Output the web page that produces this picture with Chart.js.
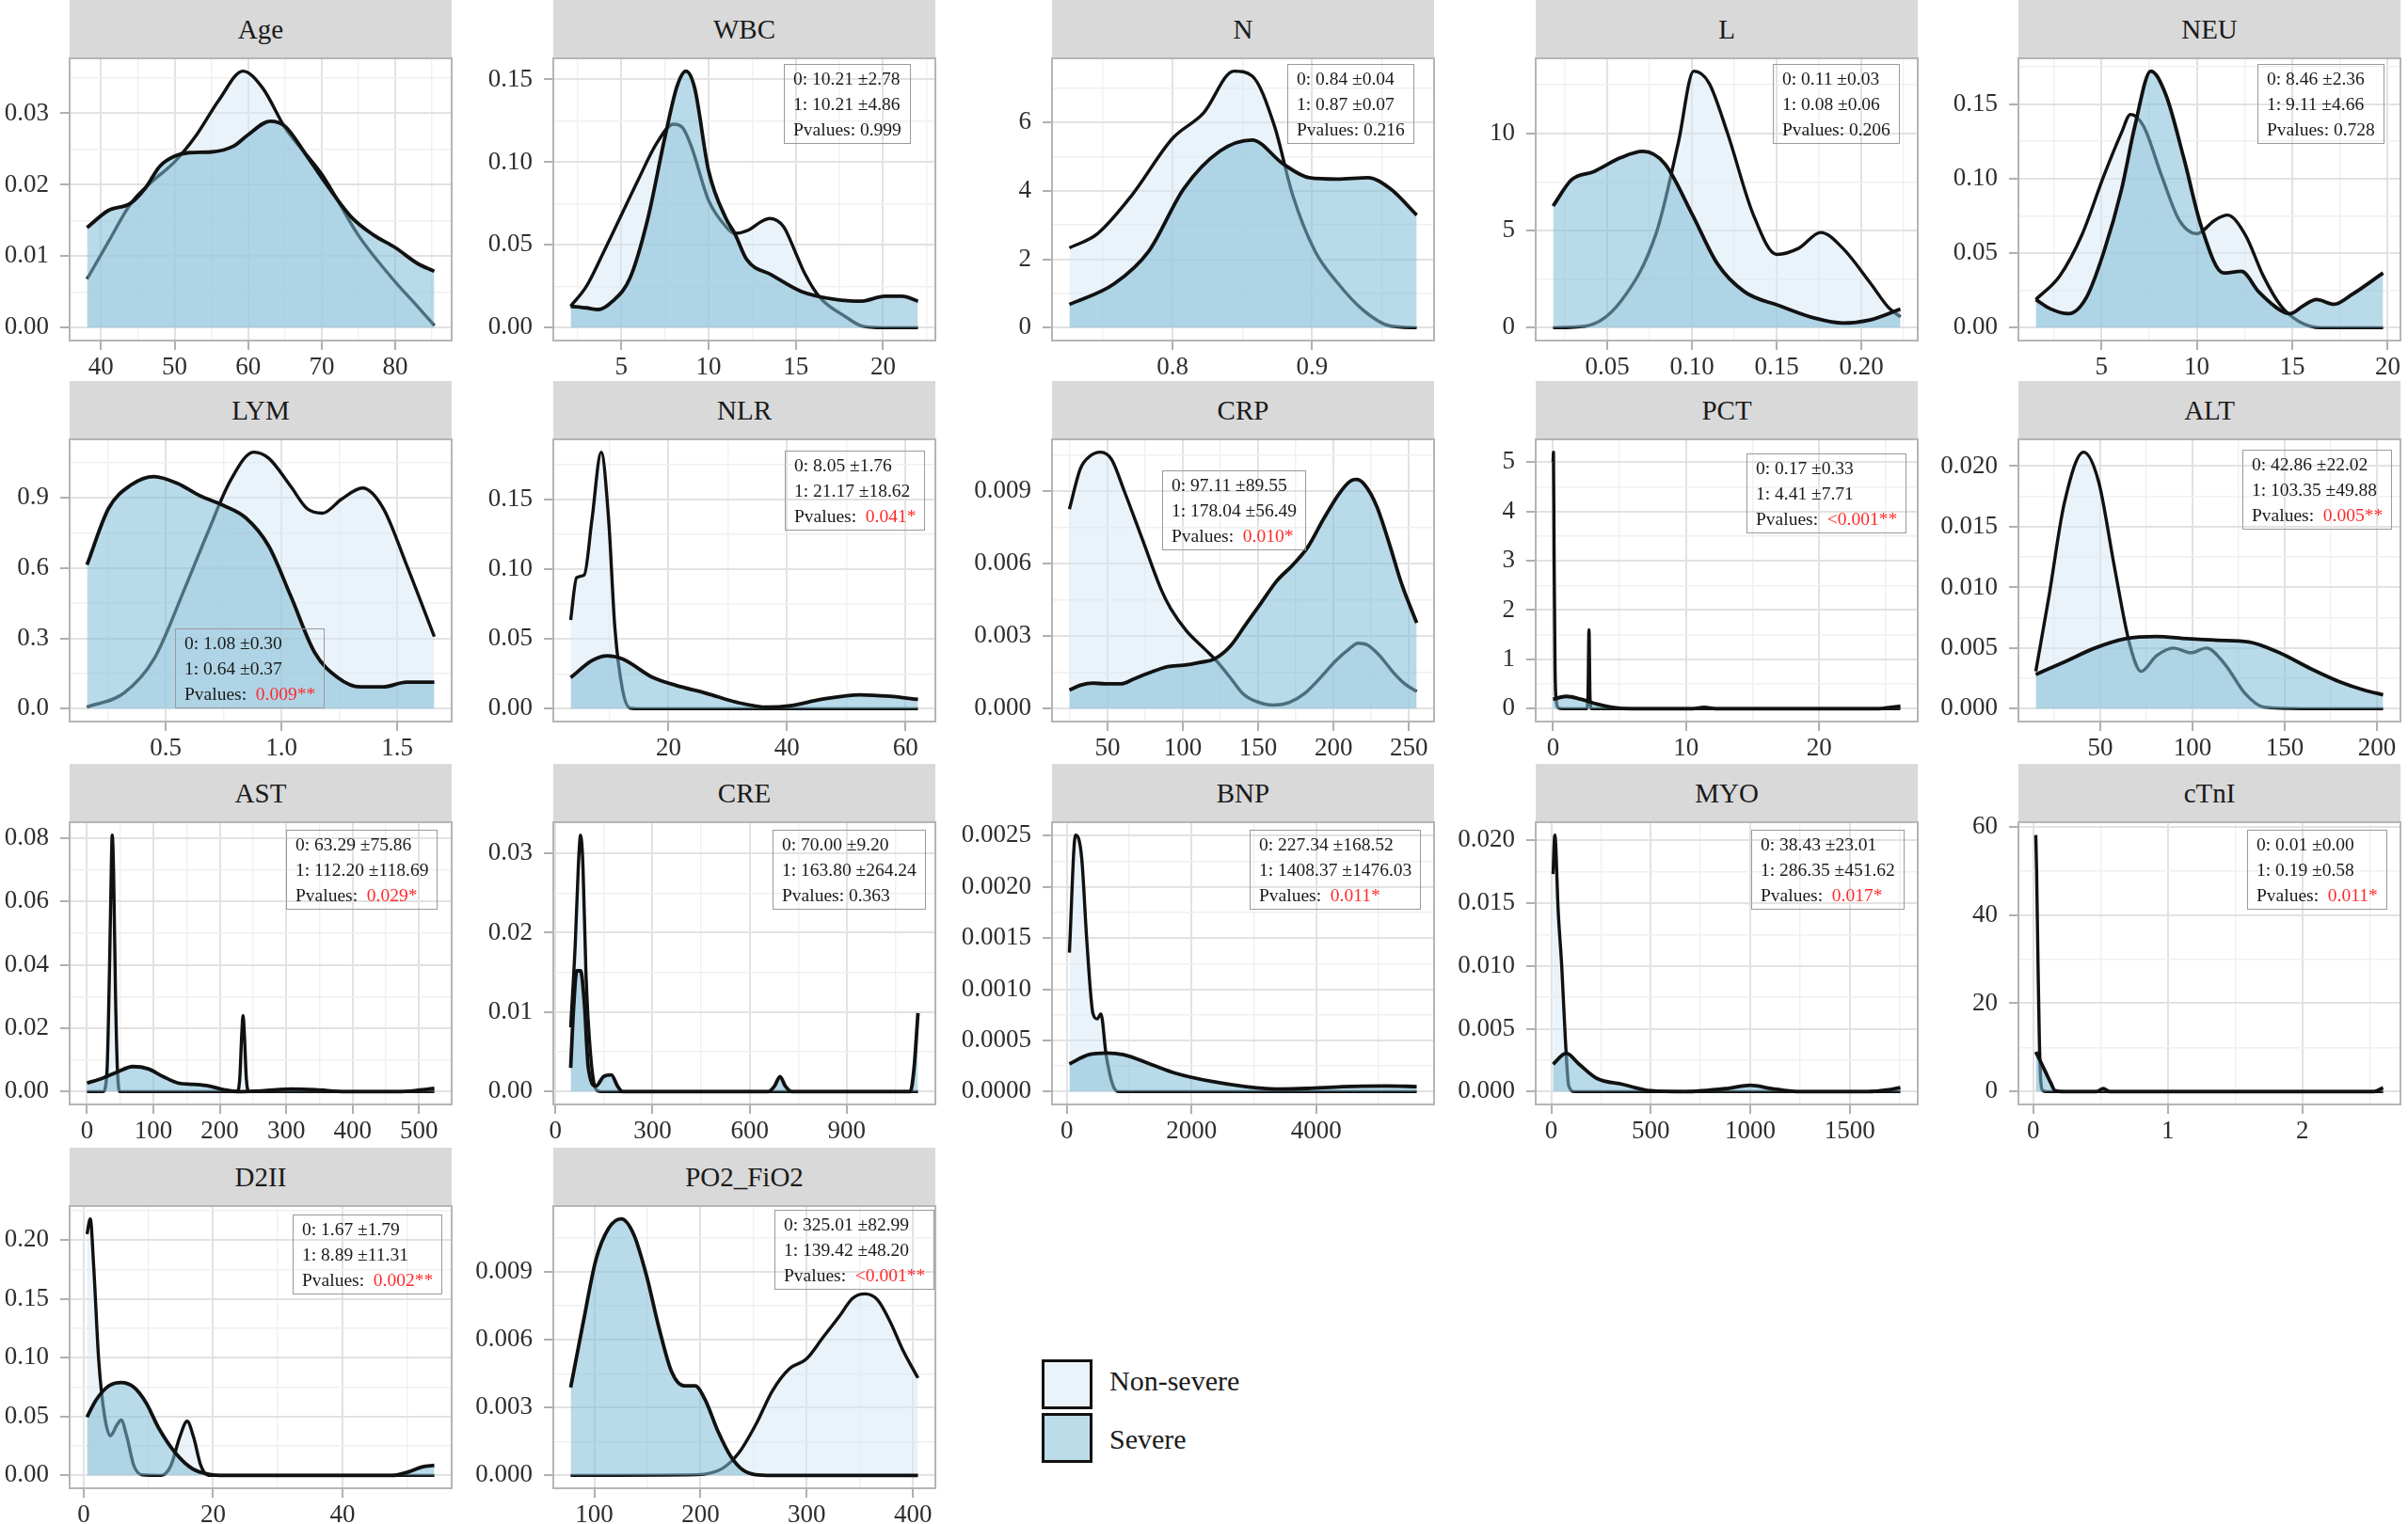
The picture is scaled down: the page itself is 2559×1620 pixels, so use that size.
<!DOCTYPE html>
<html>
<head>
<meta charset="utf-8">
<script src="https://cdn.jsdelivr.net/npm/chart.js@4.4.1/dist/chart.umd.min.js"></script>
<style>
  body { margin: 0; background: #fff; }
  #page { position: relative; width: 2559px; height: 1620px; overflow: hidden; background: #fff;
          font-family: 'Liberation Serif', 'Times New Roman', serif; }
  .strip { position: absolute; background: #d9d9d9; color: #1a1a1a; font-size: 29px;
           display: flex; align-items: center; justify-content: center; }
  .stat { position: absolute; border: 1.5px solid #9a9a9a; padding: 1px 9px; font-size: 19.5px;
          line-height: 27px; color: #1a1a1a; white-space: nowrap; }
  .sig { color: #ff2a2a; }
  .lkey { position: absolute; width: 54px; height: 53px; box-sizing: border-box; border: 3.5px solid #111; }
  .ltext { position: absolute; font-size: 30px; color: #1a1a1a; }
  canvas { position: absolute; }
</style>
</head>
<body>
<div id="page"></div>
<script>
// ---- data: [x, density] ----
const panelNames = ['Age', 'WBC', 'N', 'L', 'NEU', 'LYM', 'NLR', 'CRP', 'PCT', 'ALT',
                    'AST', 'CRE', 'BNP', 'MYO', 'cTnI', 'D2II', 'PO2_FiO2'];

const ageNonSevere = [[38.1,0.0068],[41,0.012],[44,0.0173],[47,0.0205],[50,0.0232],[53,0.027],[56,0.0318],[59.3,0.0359],[62,0.0335],[65,0.028],[70,0.0215],[75,0.0129],[80,0.0064],[83,0.003],[85.3,0.0003]];
const ageSevere = [[38.1,0.014],[41,0.0164],[44,0.0174],[46,0.0195],[48,0.0226],[50,0.024],[52,0.0245],[55,0.0246],[58,0.0254],[60,0.027],[63,0.0289],[65,0.0282],[68,0.024],[70,0.021],[74,0.0155],[77,0.013],[80,0.0112],[83,0.009],[85.3,0.0079]];

const wbcNonSevere = [[2.1,0.013],[3,0.025],[4,0.046],[5,0.068],[6,0.09],[7,0.111],[8,0.123],[8.5,0.121],[9,0.11],[10,0.077],[11,0.061],[11.5,0.057],[12.3,0.059],[13,0.064],[13.5,0.066],[14.3,0.061],[15,0.045],[15.5,0.033],[16.4,0.018],[17.8,0.007],[18.8,0.001],[20,0],[22,0]];
const wbcSevere = [[2.1,0.013],[3,0.012],[3.7,0.011],[4.5,0.016],[5.5,0.03],[6.5,0.065],[7.5,0.115],[8.2,0.146],[8.7,0.155],[9.2,0.145],[10,0.095],[11,0.066],[11.5,0.057],[12.2,0.041],[13.6,0.032],[15.3,0.022],[17.3,0.017],[18.7,0.016],[20.1,0.019],[21.1,0.019],[22,0.016]];

const nNonSevere = [[0.726,2.33],[0.746,2.74],[0.771,3.88],[0.8,5.53],[0.822,6.26],[0.844,7.49],[0.857,7.35],[0.873,5.89],[0.886,3.88],[0.902,2.24],[0.918,1.32],[0.937,0.5],[0.956,0.05],[0.975,0]];
const nSevere = [[0.726,0.68],[0.758,1.28],[0.783,2.24],[0.808,4.06],[0.834,5.16],[0.857,5.48],[0.879,4.79],[0.898,4.38],[0.918,4.34],[0.94,4.38],[0.956,4.06],[0.975,3.29]];

const lNonSevere = [[0.018,0],[0.037,0.08],[0.058,1.36],[0.079,4.9],[0.092,9.55],[0.101,13.2],[0.11,12.6],[0.121,10.0],[0.136,5.86],[0.15,3.77],[0.163,4.09],[0.176,4.9],[0.189,4.09],[0.205,2.33],[0.216,1.04],[0.223,0.56]];
const lSevere = [[0.018,6.26],[0.029,7.62],[0.042,8.03],[0.058,8.75],[0.071,9.07],[0.084,8.43],[0.1,5.86],[0.115,3.29],[0.131,1.85],[0.152,1.12],[0.173,0.48],[0.189,0.24],[0.205,0.4],[0.223,0.96]];

const neuNonSevere = [[1.56,0.0189],[2.81,0.0346],[3.97,0.062],[5.13,0.102],[6.06,0.131],[6.52,0.143],[7.21,0.135],[8.15,0.102],[9.08,0.072],[10.0,0.063],[10.93,0.072],[11.6,0.0755],[12.55,0.062],[13.47,0.035],[14.4,0.0147],[15.35,0.0042],[16.5,0],[19.76,0]];
const neuSevere = [[1.56,0.0189],[2.34,0.0126],[3.28,0.0094],[4.2,0.02],[5.13,0.051],[6.06,0.093],[6.75,0.135],[7.59,0.172],[8.38,0.156],[9.31,0.114],[10.23,0.068],[11.39,0.0367],[12.33,0.0378],[13.25,0.024],[14.4,0.0115],[14.88,0.0094],[15.57,0.0147],[16.27,0.0189],[17.2,0.0157],[18.1,0.022],[19.76,0.0367]];

const lymNonSevere = [[0.16,0.007],[0.32,0.067],[0.45,0.213],[0.58,0.507],[0.68,0.747],[0.78,0.973],[0.88,1.093],[0.945,1.067],[1.04,0.947],[1.11,0.853],[1.177,0.833],[1.26,0.893],[1.35,0.94],[1.44,0.853],[1.54,0.613],[1.66,0.307]];
const lymSevere = [[0.16,0.613],[0.253,0.853],[0.35,0.953],[0.45,0.989],[0.55,0.96],[0.648,0.907],[0.747,0.867],[0.846,0.813],[0.945,0.693],[1.04,0.48],[1.143,0.24],[1.243,0.133],[1.34,0.093],[1.44,0.093],[1.54,0.113],[1.66,0.113]];

const nlrNonSevere = [[3.5,0.0636],[4.5,0.094],[5.8,0.096],[7.1,0.136],[8.65,0.184],[9.9,0.136],[10.96,0.058],[12.26,0.0134],[13.55,0.0004],[15,0],[62.1,0]];
const nlrSevere = [[3.5,0.0223],[7.1,0.0346],[9.7,0.038],[12.26,0.0357],[17.4,0.0223],[21.3,0.0167],[26.45,0.011],[31.6,0.0045],[36.8,0.0011],[40.6,0.0022],[45.8,0.0067],[52.3,0.01],[57.4,0.0089],[62.1,0.0067]];

const crpNonSevere = [[24.7,0.00825],[32,0.00993],[38.2,0.01044],[45.4,0.01061],[52.7,0.01031],[61,0.00902],[73.4,0.00696],[85.8,0.0049],[92,0.00413],[102.4,0.00322],[114.8,0.00245],[122,0.002],[131.4,0.00129],[139.6,0.00064],[147.9,0.00032],[160.3,0.00015],[170.7,0.00026],[181,0.00064],[191.4,0.00129],[201.7,0.002],[210,0.00245],[216.2,0.00271],[222.4,0.00264],[230.7,0.00219],[239,0.00155],[247.3,0.00103],[255.2,0.00071]];
const crpSevere = [[24.7,0.00077],[32,0.00097],[40.3,0.00106],[48.5,0.00103],[58.9,0.00103],[67.1,0.00122],[77.5,0.00148],[90,0.00174],[100.3,0.0018],[110.6,0.00191],[121,0.00206],[131.4,0.00258],[141.7,0.00348],[152,0.00438],[162.4,0.00529],[172.7,0.00593],[183.1,0.0067],[193.5,0.00786],[203.8,0.0089],[211.1,0.00941],[215.2,0.00948],[220.4,0.00928],[228.6,0.00838],[237,0.00683],[245.2,0.00516],[255.2,0.00355]];

const pctNonSevere = [[0,5.0],[0.03,5.2],[0.08,3.0],[0.15,0.8],[0.25,0.15],[0.4,0.02],[0.7,0],[2.5,0],[2.62,0.2],[2.7,1.6],[2.78,0.2],[2.9,0],[26.1,0]];
const pctSevere = [[0,0.19],[0.98,0.25],[2.13,0.19],[3.29,0.095],[4.44,0.03],[5.9,0],[10.5,0],[11.36,0.03],[12.2,0],[24.5,0],[25.4,0.03],[26.1,0.05]];

const altNonSevere = [[15,0.00308],[22.1,0.00923],[30.4,0.0169],[40.9,0.02115],[49.1,0.0187],[57.5,0.0118],[65.8,0.00538],[72.1,0.00308],[80.4,0.00436],[89.6,0.005],[99.1,0.00462],[107.5,0.005],[117.9,0.00359],[128.3,0.00128],[138.7,0.00013],[159.2,0],[203.3,0]];
const altSevere = [[15,0.00282],[30.4,0.00385],[47.1,0.005],[63.7,0.00577],[80.4,0.00595],[97,0.00577],[113.7,0.00564],[130.4,0.00551],[147,0.00462],[163.7,0.00333],[180.4,0.00218],[192.9,0.00154],[203.3,0.00115]];

const astNonSevere = [[0,0],[24,0],[30,0.006],[34,0.04],[37,0.075],[38,0.081],[40,0.07],[43,0.03],[46,0.006],[50,0],[226,0],[230,0.004],[233,0.018],[235,0.024],[237,0.018],[240,0.004],[244,0],[523,0]];
const astSevere = [[0,0.0027],[23,0.0042],[46,0.0062],[69,0.0079],[92,0.0072],[115,0.0047],[137,0.0027],[160,0.0023],[183,0.0018],[206,0.0006],[229,0],[263,0.0002],[309,0.0008],[344,0.0006],[389,0],[469,0],[498,0.0004],[523,0.001]];

const creNonSevere = [[47.3,0.0081],[61.6,0.0187],[71,0.0284],[78,0.0323],[85.3,0.0284],[94.6,0.0148],[109,0.0046],[125.6,0.0003],[140,0],[1120,0]];
const creSevere = [[47.3,0.003],[56.8,0.0109],[66.2,0.0152],[78,0.0152],[90,0.0109],[101.8,0.003],[125.6,0.0007],[149,0.0019],[173,0.0021],[191.8,0.0007],[208,0],[658,0],[677,0.0007],[694,0.0019],[710,0.0007],[729,0],[1096,0],[1108,0.003],[1120,0.0099]];

const bnpNonSevere = [[42,0.001357],[140,0.002506],[238,0.00229],[323,0.00146],[421,0.00076],[490,0.00071],[547,0.00076],[631,0.00036],[744,0.000055],[842,0],[5614,0]];
const bnpSevere = [[42,0.00027],[350,0.00036],[647,0.000377],[911,0.00036],[1334,0.00027],[1754,0.000178],[2315,0.0001],[2876,0.000049],[3437,0.000025],[3860,0.000031],[4421,0.000049],[5122,0.000055],[5614,0.000049]];

const myoNonSevere = [[9,0.0173],[18,0.0204],[35,0.0143],[53,0.00985],[70,0.0044],[88,0.00045],[118,0],[1754,0]];
const myoSevere = [[9,0.00218],[75,0.00304],[140,0.00218],[228,0.00106],[360,0.00057],[500,0.00007],[667,0],[886,0.00025],[1000,0.0005],[1105,0.00025],[1236,0],[1588,0],[1697,0.00015],[1754,0.00032]];

const ctniNonSevere = [[0.019,58.1],[0.025,50],[0.035,30],[0.045,12.6],[0.055,3],[0.07,0.3],[0.1,0],[2.6,0]];
const ctniSevere = [[0.019,9.0],[0.064,6.2],[0.097,4.1],[0.13,2.0],[0.162,0.2],[0.23,0],[0.47,0],[0.52,0.7],[0.57,0],[2.53,0],[2.6,0.9]];

const d2iiNonSevere = [[0.52,0.205],[1.03,0.218],[1.55,0.178],[2.32,0.099],[3.22,0.051],[4.13,0.0337],[5.16,0.043],[5.8,0.047],[6.7,0.0324],[7.75,0.0085],[9.03,0.0005],[12,0],[13.5,0.0085],[14.84,0.0324],[16.0,0.046],[17.0,0.0324],[18.1,0.0085],[19.3,0],[54.2,0]];
const d2iiSevere = [[0.52,0.0496],[1.94,0.0642],[3.87,0.076],[5.8,0.079],[7.75,0.075],[9.68,0.0615],[11.6,0.0403],[14.19,0.0191],[16.78,0.0058],[19.3,0.001],[21.9,0],[47.7,0],[50.3,0.0032],[52.3,0.0072],[54.2,0.0085]];

const po2NonSevere = [[77.8,0],[196.5,0.00003],[220.4,0.0003],[236.2,0.001],[252,0.00224],[267.8,0.00375],[283.7,0.00472],[299.5,0.00514],[315.3,0.0061],[331.2,0.00707],[343.1,0.00783],[354.9,0.00803],[366.8,0.00776],[378.7,0.00679],[390.5,0.00555],[404.8,0.00431]];
const po2Severe = [[77.8,0.00389],[89.7,0.00679],[101.6,0.00955],[113.5,0.01093],[125.4,0.01135],[137.2,0.01066],[149.1,0.00886],[161,0.00652],[172.9,0.00458],[184.8,0.00396],[195,0.00396],[204.5,0.00334],[216.4,0.00196],[228.3,0.00086],[240.2,0.00023],[252,0.00003],[267.8,0],[404.8,0]];

const nonSevereCurves = [ageNonSevere, wbcNonSevere, nNonSevere, lNonSevere, neuNonSevere, lymNonSevere, nlrNonSevere, crpNonSevere, pctNonSevere, altNonSevere, astNonSevere, creNonSevere, bnpNonSevere, myoNonSevere, ctniNonSevere, d2iiNonSevere, po2NonSevere];
const severeCurves = [ageSevere, wbcSevere, nSevere, lSevere, neuSevere, lymSevere, nlrSevere, crpSevere, pctSevere, altSevere, astSevere, creSevere, bnpSevere, myoSevere, ctniSevere, d2iiSevere, po2Severe];

const xTickLabels = [
  ['40','50','60','70','80'], ['5','10','15','20'], ['0.8','0.9'], ['0.05','0.10','0.15','0.20'], ['5','10','15','20'],
  ['0.5','1.0','1.5'], ['20','40','60'], ['50','100','150','200','250'], ['0','10','20'], ['50','100','150','200'],
  ['0','100','200','300','400','500'], ['0','300','600','900'], ['0','2000','4000'], ['0','500','1000','1500'], ['0','1','2'],
  ['0','20','40'], ['100','200','300','400']
];
const yTickLabels = [
  ['0.00','0.01','0.02','0.03'], ['0.00','0.05','0.10','0.15'], ['0','2','4','6'], ['0','5','10'], ['0.00','0.05','0.10','0.15'],
  ['0.0','0.3','0.6','0.9'], ['0.00','0.05','0.10','0.15'], ['0.000','0.003','0.006','0.009'], ['0','1','2','3','4','5'],
  ['0.000','0.005','0.010','0.015','0.020'], ['0.00','0.02','0.04','0.06','0.08'], ['0.00','0.01','0.02','0.03'],
  ['0.0000','0.0005','0.0010','0.0015','0.0020','0.0025'], ['0.000','0.005','0.010','0.015','0.020'], ['0','20','40','60'],
  ['0.00','0.05','0.10','0.15','0.20'], ['0.000','0.003','0.006','0.009']
];

const groupStats0 = ['', '10.21 ±2.78', '0.84 ±0.04', '0.11 ±0.03', '8.46 ±2.36', '1.08 ±0.30', '8.05 ±1.76', '97.11 ±89.55', '0.17 ±0.33',
                     '42.86 ±22.02', '63.29 ±75.86', '70.00 ±9.20', '227.34 ±168.52', '38.43 ±23.01', '0.01 ±0.00', '1.67 ±1.79', '325.01 ±82.99'];
const groupStats1 = ['', '10.21 ±4.86', '0.87 ±0.07', '0.08 ±0.06', '9.11 ±4.66', '0.64 ±0.37', '21.17 ±18.62', '178.04 ±56.49', '4.41 ±7.71',
                     '103.35 ±49.88', '112.20 ±118.69', '163.80 ±264.24', '1408.37 ±1476.03', '286.35 ±451.62', '0.19 ±0.58', '8.89 ±11.31', '139.42 ±48.20'];
const pValues = ['', '0.999', '0.216', '0.206', '0.728', '0.009**', '0.041*', '0.010*', '<0.001**',
                 '0.005**', '0.029*', '0.363', '0.011*', '0.017*', '0.011*', '0.002**', '<0.001**'];

const legendLabels = ['Non-severe', 'Severe'];

// ---- layout ----
const colLeft = [74, 588, 1118, 1632, 2145];
const rowTop = [0, 405, 812, 1220];
const PW = 406, PH = 300, SH = 62;          // plot width/height, strip height
const YW = 125, XH = 52, PAD_T = 34, PAD_R = 40;
const statPos = [null, [245,6], [250,6], [252,6], [254,6], [112,201], [246,12], [117,33], [224,15],
                 [238,11], [230,8], [233,8], [210,8], [229,8], [243,8], [237,9], [235,4]];

const NS_FILL = 'rgba(214,232,246,0.5)';
const SEV_FILL = 'rgba(128,188,213,0.55)';
const FONT = "'Liberation Serif', 'Times New Roman', serif";

const page = document.getElementById('page');

const panelFrame = {
  id: 'panelFrame',
  afterDatasetsDraw(chart) {
    const { ctx, chartArea: a } = chart;
    ctx.save();
    ctx.strokeStyle = '#b5b5b5';
    ctx.lineWidth = 2;
    ctx.strokeRect(a.left, a.top, a.right - a.left, a.bottom - a.top);
    ctx.restore();
  }
};

// major + minor (half step) break values inside [min, max]
function breaks(majors, min, max) {
  const half = (majors[1] - majors[0]) / 2;
  const out = [];
  const k0 = Math.ceil((min - majors[0]) / half - 1e-9);
  const k1 = Math.floor((max - majors[0]) / half + 1e-9);
  for (let k = k0; k <= k1; k++) out.push(+(majors[0] + k * half).toFixed(10));
  return out;
}

function axisOptions(labels, min, max, isX) {
  const majors = labels.map(Number);
  const half = (majors[1] - majors[0]) / 2;
  const majorIndex = v => majors.findIndex(m => Math.abs(m - v) < half * 1e-4);
  return {
    type: 'linear',
    min: min,
    max: max,
    afterBuildTicks: axis => { axis.ticks = breaks(majors, min, max).map(v => ({ value: v })); },
    afterFit: axis => { if (isX) axis.height = XH; else axis.width = YW; },
    border: { display: false },
    grid: {
      color: c => majorIndex(c.tick.value) >= 0 ? '#e2e2e2' : '#f0f0f0',
      lineWidth: c => majorIndex(c.tick.value) >= 0 ? 2 : 1.4,
      drawTicks: true,
      tickLength: 10,
      tickWidth: 2,
      tickColor: c => majorIndex(c.tick.value) >= 0 ? '#b0b0b0' : 'rgba(0,0,0,0)'
    },
    ticks: {
      autoSkip: false,
      maxRotation: 0,
      minRotation: 0,
      padding: isX ? 3 : 12,
      color: '#2e2e2e',
      font: { family: FONT, size: 27 },
      callback: v => { const i = majorIndex(v); return i >= 0 ? labels[i] : ''; }
    }
  };
}

panelNames.forEach((name, i) => {
  const col = i % 5, row = Math.floor(i / 5);
  const left = colLeft[col], top = rowTop[row];

  const strip = document.createElement('div');
  strip.className = 'strip';
  Object.assign(strip.style, { left: left + 'px', top: top + 'px', width: PW + 'px', height: SH + 'px' });
  strip.textContent = name;
  page.appendChild(strip);

  const canvas = document.createElement('canvas');
  const cw = YW + PW + PAD_R, ch = PAD_T + PH + XH;
  canvas.width = cw; canvas.height = ch;
  Object.assign(canvas.style, { left: (left - YW) + 'px', top: (top + SH - PAD_T) + 'px', width: cw + 'px', height: ch + 'px' });
  page.appendChild(canvas);

  const ns = nonSevereCurves[i], sev = severeCurves[i];
  const xs = ns.concat(sev).map(p => p[0]);
  const ys = ns.concat(sev).map(p => p[1]);
  const xlo = Math.min(...xs), xhi = Math.max(...xs), yhi = Math.max(...ys);
  const xpad = (xhi - xlo) * 0.05;

  new Chart(canvas, {
    type: 'line',
    data: {
      datasets: [
        { label: legendLabels[1], data: sev.map(p => ({ x: p[0], y: p[1] })), order: 0,
          fill: 'origin', backgroundColor: SEV_FILL, borderColor: '#111', borderWidth: 3.8 },
        { label: legendLabels[0], data: ns.map(p => ({ x: p[0], y: p[1] })), order: 1,
          fill: 'origin', backgroundColor: NS_FILL, borderColor: '#111', borderWidth: 3.4 }
      ]
    },
    options: {
      responsive: false,
      animation: false,
      devicePixelRatio: 1,
      layout: { padding: { left: 0, right: PAD_R, top: PAD_T, bottom: 0 } },
      elements: {
        point: { radius: 0, hoverRadius: 0 },
        line: { tension: 0.4, cubicInterpolationMode: 'monotone', borderJoinStyle: 'round', capBezierPoints: true }
      },
      plugins: { legend: { display: false }, tooltip: { enabled: false } },
      scales: {
        x: axisOptions(xTickLabels[i], xlo - xpad, xhi + xpad, true),
        y: axisOptions(yTickLabels[i], -0.05 * yhi, 1.05 * yhi, false)
      }
    },
    plugins: [panelFrame]
  });

  if (statPos[i]) {
    const box = document.createElement('div');
    box.className = 'stat';
    Object.assign(box.style, { left: (left + statPos[i][0]) + 'px', top: (top + SH + statPos[i][1]) + 'px' });
    const sig = pValues[i].includes('*');
    box.innerHTML = '0: ' + groupStats0[i] + '<br>1: ' + groupStats1[i] + '<br>Pvalues:' +
      (sig ? '&nbsp; <span class="sig">' + pValues[i] + '</span>' : ' ' + pValues[i]);
    page.appendChild(box);
  }
});

// legend
const legendFills = ['#eaf2fa', '#bcdcea'];
legendLabels.forEach((lab, k) => {
  const key = document.createElement('div');
  key.className = 'lkey';
  Object.assign(key.style, { left: '1107px', top: (1445 + k * 57) + 'px', background: legendFills[k] });
  page.appendChild(key);
  const t = document.createElement('div');
  t.className = 'ltext';
  Object.assign(t.style, { left: '1179px', top: (1451 + k * 62) + 'px' });
  t.textContent = lab;
  page.appendChild(t);
});
</script>
</body>
</html>
